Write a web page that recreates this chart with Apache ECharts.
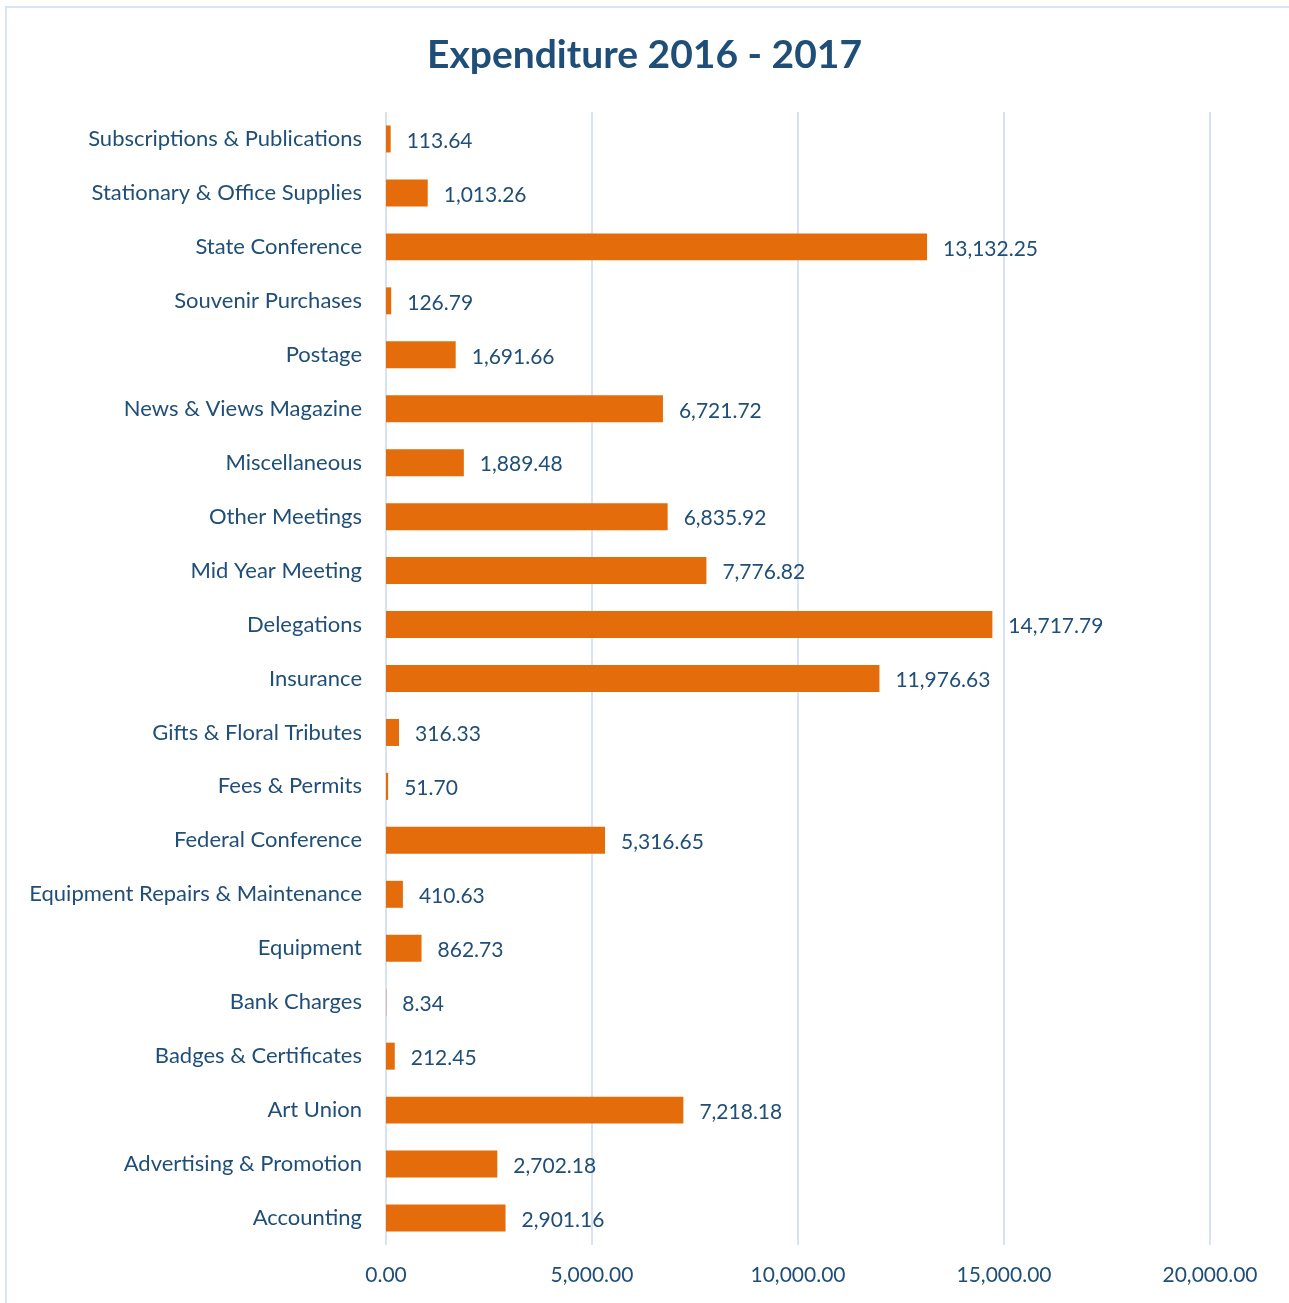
<!DOCTYPE html>
<html>
<head>
<meta charset="utf-8">
<script src="https://cdn.jsdelivr.net/npm/echarts@6/dist/echarts.min.js"></script>
<style>
  html, body { margin: 0; padding: 0; background: #fff; }
  #frame {
    position: absolute; left: 5px; top: 6px; width: 1300px; height: 1310px;
    border-left: 2px solid #DAE3F3; border-top: 2px solid #DAE3F3;
  }
  #chart { position: absolute; left: 0; top: 0; width: 1289px; height: 1303px; }
</style>
</head>
<body>
<div id="frame"></div>
<div id="chart"></div>
<script>
// categories listed bottom to top (category axis starts at the bottom)
const categories = [
  "Accounting",
  "Advertising & Promotion",
  "Art Union",
  "Badges & Certificates",
  "Bank Charges",
  "Equipment",
  "Equipment Repairs & Maintenance",
  "Federal Conference",
  "Fees & Permits",
  "Gifts & Floral Tributes",
  "Insurance",
  "Delegations",
  "Mid Year Meeting",
  "Other Meetings",
  "Miscellaneous",
  "News & Views Magazine",
  "Postage",
  "Souvenir Purchases",
  "State Conference",
  "Stationary & Office Supplies",
  "Subscriptions & Publications"
];
const amounts = [
  2901.16, 2702.18, 7218.18, 212.45, 8.34, 862.73, 410.63, 5316.65, 51.70, 316.33,
  11976.63, 14717.79, 7776.82, 6835.92, 1889.48, 6721.72, 1691.66, 126.79, 13132.25,
  1013.26, 113.64
];

const textColor = "#1F4E79";
const fmt = (v) => Number(v).toLocaleString("en-US", { minimumFractionDigits: 2, maximumFractionDigits: 2 });

let chart = echarts.init(document.getElementById("chart"));
let option = {
  animation: false,
  title: {
    text: "Expenditure 2016 - 2017",
    left: "center",
    top: 31,
    textStyle: { color: textColor, fontFamily: "Lato", fontWeight: "bold", fontSize: 39 }
  },
  grid: { left: 386, right: 79, top: 112, bottom: 58 },
  xAxis: {
    type: "value",
    min: 0,
    max: 20000,
    interval: 5000,
    axisLine: { show: false },
    axisTick: { show: false },
    splitLine: { lineStyle: { color: "#D9E2F3", width: 2 } },
    axisLabel: {
      color: textColor, fontFamily: "Lato", fontSize: 21, margin: 20,
      formatter: fmt
    }
  },
  yAxis: {
    type: "category",
    data: categories,
    axisLine: { show: false },
    axisTick: { show: false },
    axisLabel: { color: textColor, fontFamily: "Lato", fontSize: 22, margin: 24 }
  },
  series: [
    {
      type: "bar",
      data: amounts,
      barCategoryGap: "50%",
      itemStyle: { color: "#E46C0A" },
      label: {
        show: true,
        position: "right",
        distance: 16,
        color: textColor,
        fontFamily: "Lato",
        fontSize: 21,
        offset: [0, 2],
        formatter: (p) => fmt(p.value)
      }
    }
  ]
};
chart.setOption(option);
</script>
</body>
</html>
